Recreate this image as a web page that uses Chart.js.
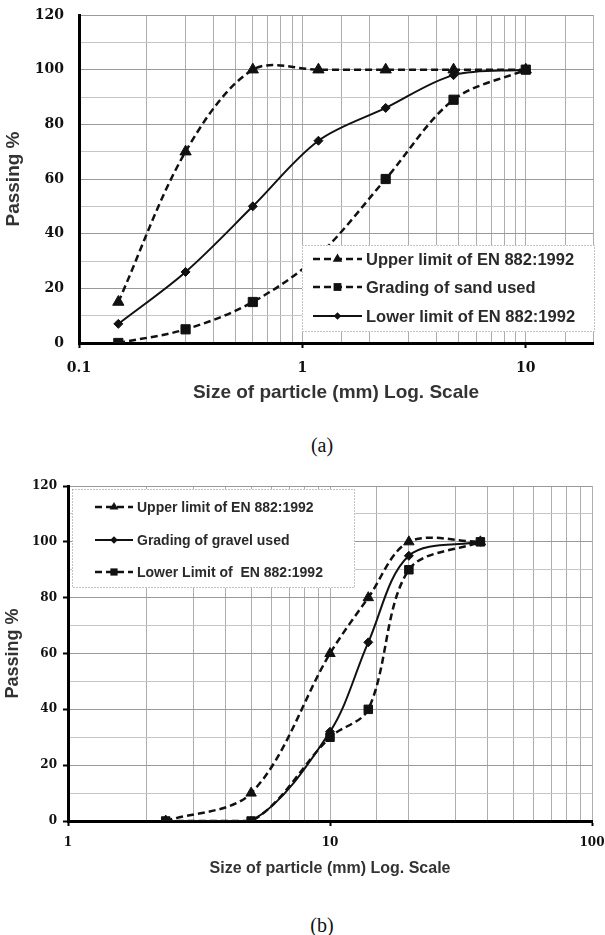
<!DOCTYPE html>
<html lang="en">
<head>
<meta charset="UTF-8">
<title>Grading curves</title>
<script src="https://cdn.jsdelivr.net/npm/chart.js"></script>
<style>
  body { margin: 0; background: #fff; width: 605px; height: 935px; position: relative; overflow: hidden; }
  .panel { position: absolute; left: 0; width: 605px; }
  #panelA { top: 0; height: 410px; }
  #panelB { top: 470px; height: 415px; }
  .caption {
    position: absolute; left: 272px; width: 100px; text-align: center;
    font-family: 'Liberation Serif', 'Times New Roman', serif; font-size: 20px;
    line-height: 24px; color: #111;
  }
</style>
</head>
<body>
<div class="panel" id="panelA"><canvas id="chartA"></canvas></div>
<div class="caption" style="top: 433px;">(a)</div>
<div class="panel" id="panelB"><canvas id="chartB"></canvas></div>
<div class="caption" style="top: 913px;">(b)</div>

<script>
// (a) fine aggregate (sand)
const sandSizes = [0.15, 0.3, 0.6, 1.18, 2.36, 4.75, 10];
const sandUpper = [15, 70, 100, 100, 100, 100, 100];
const sandGrading = [0, 5, 15, 32, 60, 89, 100];
const sandLower = [7, 26, 50, 74, 86, 98, 100];
const sandAxisLabels = [0.1, 1, 10];

// (b) coarse aggregate (gravel)
const gravelSizes = [2.36, 5, 10, 14, 20, 37.5];
const gravelUpper = [0, 10, 60, 80, 100, 100];
const gravelGrading = [0, 0, 32, 64, 95, 100];
const gravelLower = [0, 0, 30, 40, 90, 100];
const gravelAxisLabels = [1, 10, 100];

const INK = '#111';
const NONE = 'rgba(0,0,0,0)';

function isLabelled(v, list) {
    return list.some(l => Math.abs(Math.log10(v) - Math.log10(l)) < 1e-6);
}

function points(sizes, values) {
    return sizes.map((s, i) => ({ x: s, y: values[i] }));
}

function series(label, sizes, values, dashed, style, radius, width) {
    return {
        label: label,
        data: points(sizes, values),
        borderColor: INK,
        backgroundColor: INK,
        borderWidth: width,
        borderDash: dashed ? [7, 4] : [],
        pointStyle: style,
        pointRadius: radius,
        pointBackgroundColor: INK,
        pointBorderColor: INK,
        pointBorderWidth: 1,
        tension: 0.33,
        fill: false
    };
}

function drawMarker(ctx, style, x, y, r) {
    ctx.beginPath();
    if (style === 'triangle') {
        ctx.moveTo(x, y - r);
        ctx.lineTo(x + r * 0.866, y + r * 0.5);
        ctx.lineTo(x - r * 0.866, y + r * 0.5);
    } else if (style === 'rect') {
        const s = r * Math.SQRT1_2;
        ctx.rect(x - s, y - s, 2 * s, 2 * s);
    } else {
        ctx.moveTo(x, y - r);
        ctx.lineTo(x + r, y);
        ctx.lineTo(x, y + r);
        ctx.lineTo(x - r, y);
    }
    ctx.closePath();
    ctx.fillStyle = INK;
    ctx.fill();
}

// legend drawn as a white box inside the plot, on top of the lines
const boxLegend = {
    id: 'boxLegend',
    afterDatasetsDraw(chart, args, o) {
        const ctx = chart.ctx;
        ctx.save();
        ctx.fillStyle = '#fff';
        ctx.fillRect(o.x, o.y, o.w, o.h);
        ctx.setLineDash([1, 2]);
        ctx.strokeStyle = '#888';
        ctx.lineWidth = 1;
        ctx.strokeRect(o.x + 0.5, o.y + 0.5, o.w - 1, o.h - 1);
        o.items.forEach((idx, i) => {
            const ds = chart.data.datasets[idx];
            const y = o.rowY[i];
            ctx.setLineDash(ds.borderDash);
            ctx.strokeStyle = INK;
            ctx.lineWidth = ds.borderWidth;
            ctx.beginPath();
            ctx.moveTo(o.x0, y);
            ctx.lineTo(o.x1, y);
            ctx.stroke();
            ctx.setLineDash([]);
            drawMarker(ctx, ds.pointStyle, (o.x0 + o.x1) / 2, y, ds.pointRadius * 0.85);
            ctx.fillStyle = '#2a2a2a';
            ctx.font = o.font;
            ctx.textBaseline = 'middle';
            ctx.fillText(ds.label, o.textX, y + 1);
        });
        ctx.restore();
    }
};

function makeChart(id, p) {
    return new Chart(document.getElementById(id), {
        type: 'line',
        data: { datasets: p.datasets },
        options: {
            responsive: true,
            maintainAspectRatio: false,
            animation: false,
            devicePixelRatio: 1,
            layout: { padding: p.padding },
            plugins: {
                legend: { display: false },
                tooltip: { enabled: false },
                boxLegend: p.legend
            },
            scales: {
                x: {
                    type: 'logarithmic',
                    min: p.xMin,
                    max: p.xMax,
                    afterFit(scale) { scale.height = p.xHeight; },
                    border: { color: '#000', width: 3 },
                    grid: {
                        color: '#adadad',
                        lineWidth: 1,
                        tickLength: 5,
                        tickWidth: 2,
                        tickColor: c => (c.tick && isLabelled(c.tick.value, p.axisLabels)) ? '#000' : NONE
                    },
                    ticks: {
                        autoSkip: false,
                        maxRotation: 0,
                        padding: p.xTickPad,
                        color: INK,
                        font: { family: 'DejaVu Serif', size: p.tickSize, weight: 'bold', lineHeight: p.xTickLH },
                        callback: v => isLabelled(v, p.axisLabels) ? String(v) : ''
                    },
                    title: {
                        display: true,
                        text: 'Size of particle (mm) Log. Scale',
                        color: '#333',
                        font: { family: 'Liberation Sans', size: p.titleSize, weight: 'bold' },
                        padding: { top: 0, bottom: p.xTitlePad }
                    }
                },
                y: {
                    min: 0,
                    max: 120,
                    afterFit(scale) { scale.width = p.yWidth; },
                    border: { color: '#000', width: 3 },
                    grid: {
                        color: c => (c.tick && c.tick.value % 20 === 0) ? '#9a9a9a' : '#c6c6c6',
                        lineWidth: 1,
                        tickLength: p.yTickLen,
                        tickWidth: 2,
                        tickColor: c => (p.yTickMarks && c.tick && c.tick.value % 20 === 0) ? '#000' : NONE
                    },
                    ticks: {
                        stepSize: 10,
                        padding: p.yTickPad,
                        color: INK,
                        font: { family: 'DejaVu Serif', size: p.tickSize, weight: 'bold' },
                        callback: v => v % 20 === 0 ? String(v) : ''
                    },
                    title: {
                        display: true,
                        text: 'Passing %',
                        color: '#333',
                        font: { family: 'Liberation Sans', size: p.yTitleSize, weight: 'bold' },
                        padding: { top: 2, bottom: 0 }
                    }
                }
            }
        },
        plugins: [boxLegend]
    });
}

// (a) sand: the sand curve is drawn on top
makeChart('chartA', {
    datasets: [
        series('Grading of sand used', sandSizes, sandGrading, true, 'rect', 6.5, 2.5),
        series('Upper limit of EN 882:1992', sandSizes, sandUpper, true, 'triangle', 6.5, 2.5),
        series('Lower limit of EN 882:1992', sandSizes, sandLower, false, 'rectRot', 4.5, 2)
    ],
    xMin: 0.1, xMax: 20,
    axisLabels: sandAxisLabels,
    padding: { top: 15, right: 11, left: 0, bottom: 0 },
    xHeight: 67, yWidth: 79,
    xTickPad: 12, xTickLH: 1.2,
    yTickPad: 2, yTickLen: 13, yTickMarks: false,
    tickSize: 14, titleSize: 19, yTitleSize: 19,
    xTitlePad: 6,
    legend: {
        x: 302, y: 245, w: 293, h: 87,
        items: [1, 0, 2], rowY: [259, 287, 316],
        x0: 313, x1: 362, textX: 366,
        font: 'bold 16.5px "Liberation Sans"'
    }
});

// (b) gravel: the lower limit is drawn on top
makeChart('chartB', {
    datasets: [
        series('Lower Limit of  EN 882:1992', gravelSizes, gravelLower, true, 'rect', 6, 2.5),
        series('Grading of gravel used', gravelSizes, gravelGrading, false, 'rectRot', 4.5, 2),
        series('Upper limit of EN 882:1992', gravelSizes, gravelUpper, true, 'triangle', 6, 2.5)
    ],
    xMin: 1, xMax: 100,
    axisLabels: gravelAxisLabels,
    padding: { top: 16, right: 13, left: 0, bottom: 0 },
    xHeight: 64, yWidth: 68,
    xTickPad: 0, xTickLH: 2.8,
    yTickPad: 6, yTickLen: 5, yTickMarks: true,
    tickSize: 12, titleSize: 16, yTitleSize: 18,
    xTitlePad: 7,
    legend: {
        x: 72, y: 19, w: 283, h: 99,
        items: [2, 1, 0], rowY: [37, 70, 102],
        x0: 95, x1: 133, textX: 137,
        font: 'bold 14px "Liberation Sans"'
    }
});
</script>
</body>
</html>
